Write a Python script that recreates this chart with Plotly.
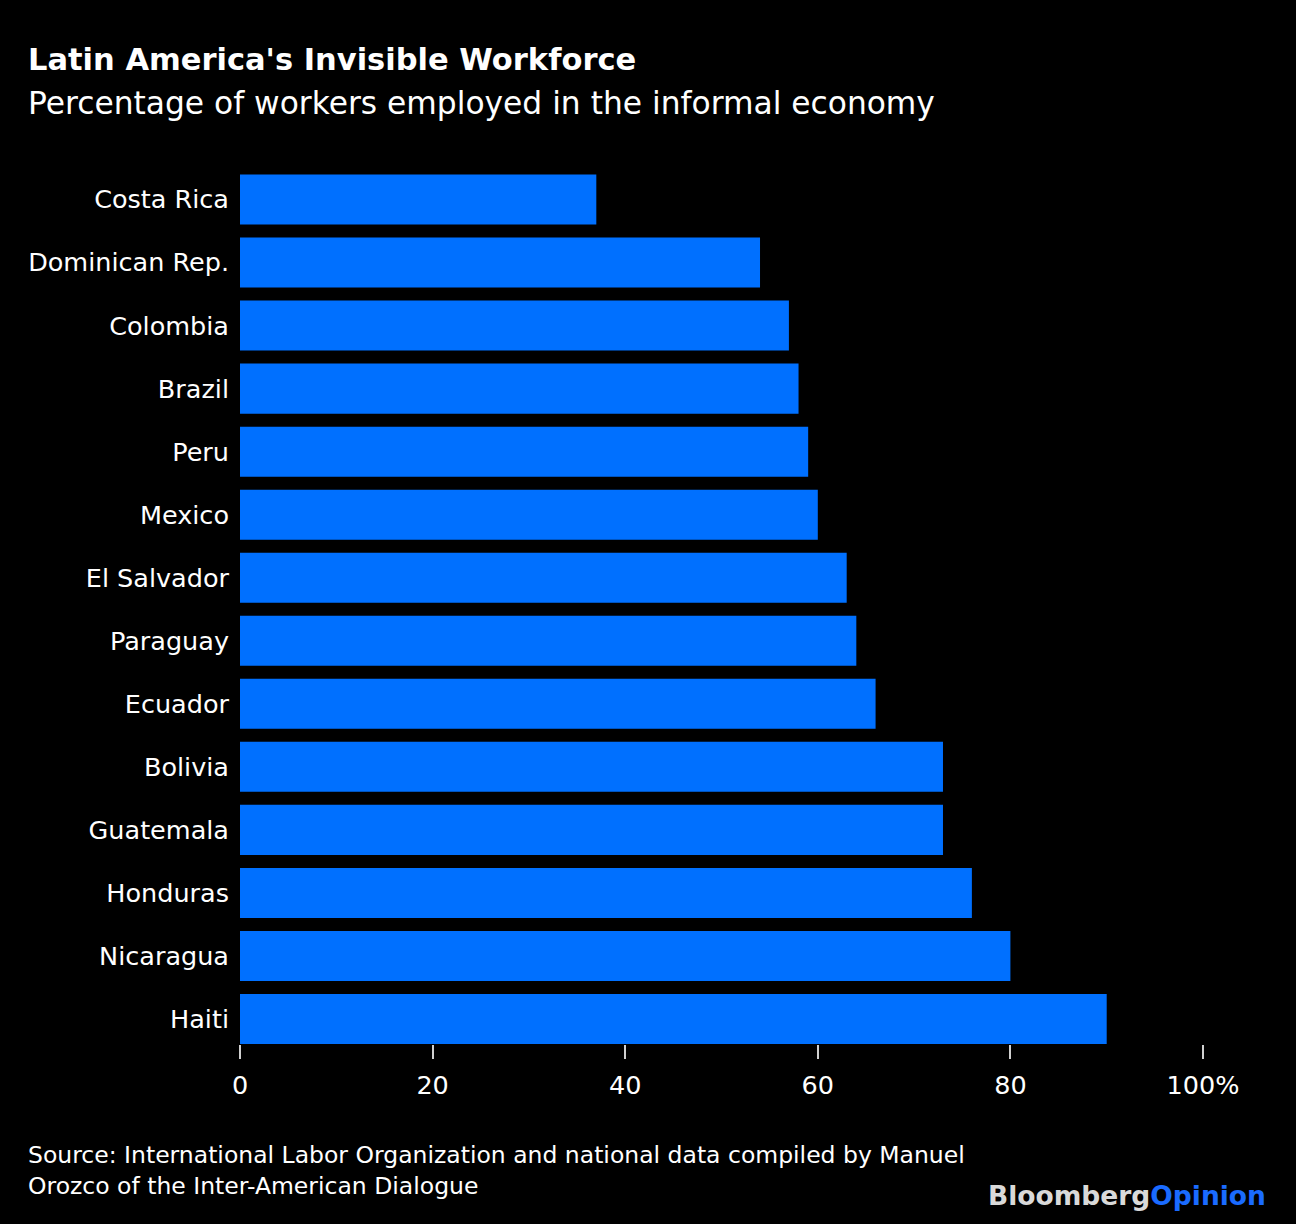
import plotly.graph_objects as go

countries = ["Costa Rica", "Dominican Rep.", "Colombia", "Brazil", "Peru", "Mexico",
             "El Salvador", "Paraguay", "Ecuador", "Bolivia", "Guatemala", "Honduras",
             "Nicaragua", "Haiti"]
values = [37, 54, 57, 58, 59, 60, 63, 64, 66, 73, 73, 76, 80, 90]
tick_vals = [0, 20, 40, 60, 80, 100]
tick_text = ["0", "20", "40", "60", "80", "100%"]

FONT = "DejaVu Sans, Verdana, sans-serif"
BLUE = "#0070ff"

W, H = 1296, 1224
L, R, T, B = 240, 93, 168, 180

fig = go.Figure(go.Bar(
    x=values, y=countries, orientation="h",
    marker=dict(color=BLUE, line=dict(width=0)),
    hoverinfo="x+y",
))

n = len(countries)
bargap = 0.206
fig.update_layout(
    width=W, height=H,
    paper_bgcolor="black", plot_bgcolor="black",
    margin=dict(l=L, r=R, t=T, b=B, pad=0),
    bargap=bargap,
    showlegend=False,
    font=dict(family=FONT, color="white"),
    xaxis=dict(range=[0, 100], tickvals=tick_vals, ticktext=tick_text,
               showgrid=False, zeroline=False, showline=False,
               ticks="outside", ticklen=14, tickcolor="#d0d0d0", tickwidth=1.5,
               ticklabelstandoff=4,
               tickfont=dict(size=25.5, color="white"), fixedrange=True),
    yaxis=dict(range=[n - 1 + (1 - bargap) / 2, -0.5],
               showgrid=False, zeroline=False, showline=False,
               ticks="", ticklabelstandoff=10,
               tickfont=dict(size=25.5, color="white"), fixedrange=True),
)

pw, ph = W - L - R, H - T - B


def px(x, y):
    return (x - L) / pw, (H - B - y) / ph


anns = [
    ("<b>Latin America's Invisible Workforce</b>", 26, 60, "left", "middle", 30.5, "left"),
    ("Percentage of workers employed in the informal economy", 26, 103, "left", "middle", 31.3, "left"),
    ("Source: International Labor Organization and national data compiled by Manuel<br>Orozco of the Inter-American Dialogue",
     26, 1139, "left", "top", 23.5, "left"),
    ("<b><span style='color:#d9d9d9'>Bloomberg</span><span style='color:#1a6bff'>Opinion</span></b>",
     1268, 1195, "right", "middle", 26.5, "right"),
]
for text, x, y, xa, ya, size, align in anns:
    ax, ay = px(x, y)
    fig.add_annotation(text=text, x=ax, y=ay, xref="paper", yref="paper",
                       showarrow=False, xanchor=xa, yanchor=ya, align=align,
                       font=dict(size=size, color="white", family=FONT))

fig.write_html(
    "out.html",
    config={"displayModeBar": False},
    post_script="document.body.style.margin='0';document.body.style.background='black';document.body.style.overflow='hidden';",
)
